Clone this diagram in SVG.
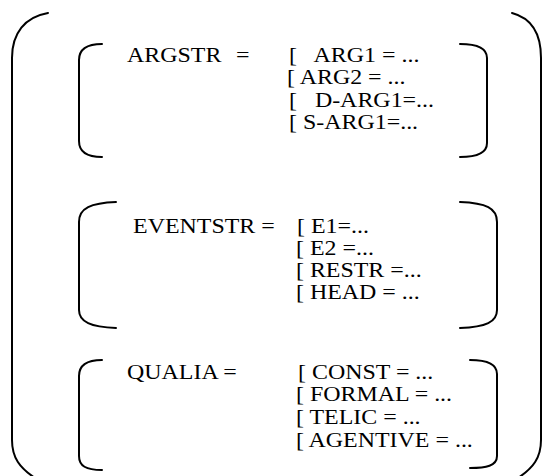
<svg xmlns="http://www.w3.org/2000/svg" width="550" height="476" viewBox="0 0 550 476">
  <style>
    .br { fill: none; stroke: #000; stroke-width: 2; stroke-linecap: round; }
    .t { font-family: "Liberation Serif", "Times New Roman", serif; font-size: 21px; fill: #000; white-space: pre; }
  </style>
  <rect width="550" height="476" fill="#fff"/>

  <!-- outer bracket pair enclosing the whole structure -->
  <g id="outer">
    <path class="br" d="M48,13 C25,17 12,33 12,58 L12,440 C12,458 20,468 35,478"/>
    <path class="br" d="M512,13 C531,18 541,33 541,58 L541,440 C541,458 533,468 518,478"/>
  </g>

  <!-- argument structure -->
  <g id="argstr">
    <path class="br" d="M102,44 C86,44 79,50 79,60 L79,141 C79,151 86,157 102,157"/>
    <path class="br" d="M460,44 C476,44 487,48 487,58 L487,143 C487,153 476,157 460,157"/>
    <g transform="scale(1.14 1)">
      <text class="t" x="111.4" y="62">ARGSTR</text>
      <text class="t" x="207" y="62">=</text>
      <text class="t" x="253.5" y="62">[   ARG1 = ...</text>
      <text class="t" x="251.8" y="84">[ ARG2 = ...</text>
      <text class="t" x="253.5" y="107">[   D-ARG1=...</text>
      <text class="t" x="253.5" y="129">[ S-ARG1=...</text>
    </g>
  </g>

  <!-- event structure -->
  <g id="eventstr">
    <path class="br" d="M116,202 C91,203 79,208 79,222 L79,310 C79,322 91,327 116,328"/>
    <path class="br" d="M460,202 C486,203 497,208 497,222 L497,310 C497,322 486,327 460,328"/>
    <g transform="scale(1.14 1)">
      <text class="t" x="116.7" y="233">EVENTSTR =</text>
      <text class="t" x="260.5" y="233">[ E1=...</text>
      <text class="t" x="259.6" y="255">[ E2 =...</text>
      <text class="t" x="259.6" y="277">[ RESTR =...</text>
      <text class="t" x="259.6" y="299">[ HEAD = ...</text>
    </g>
  </g>

  <!-- qualia structure -->
  <g id="qualia">
    <path class="br" d="M102,360 C86,360 79,366 79,376 L79,456 C79,466 86,470 102,470"/>
    <path class="br" d="M470,360 C486,360 497,364 497,374 L497,456 C497,466 486,468 470,468"/>
    <g transform="scale(1.14 1)">
      <text class="t" x="111.4" y="379">QUALIA =</text>
      <text class="t" x="261.4" y="379">[ CONST = ...</text>
      <text class="t" x="259.6" y="401">[ FORMAL = ...</text>
      <text class="t" x="259.6" y="424">[ TELIC = ...</text>
      <text class="t" x="259.6" y="447">[ AGENTIVE = ...</text>
    </g>
  </g>
</svg>
